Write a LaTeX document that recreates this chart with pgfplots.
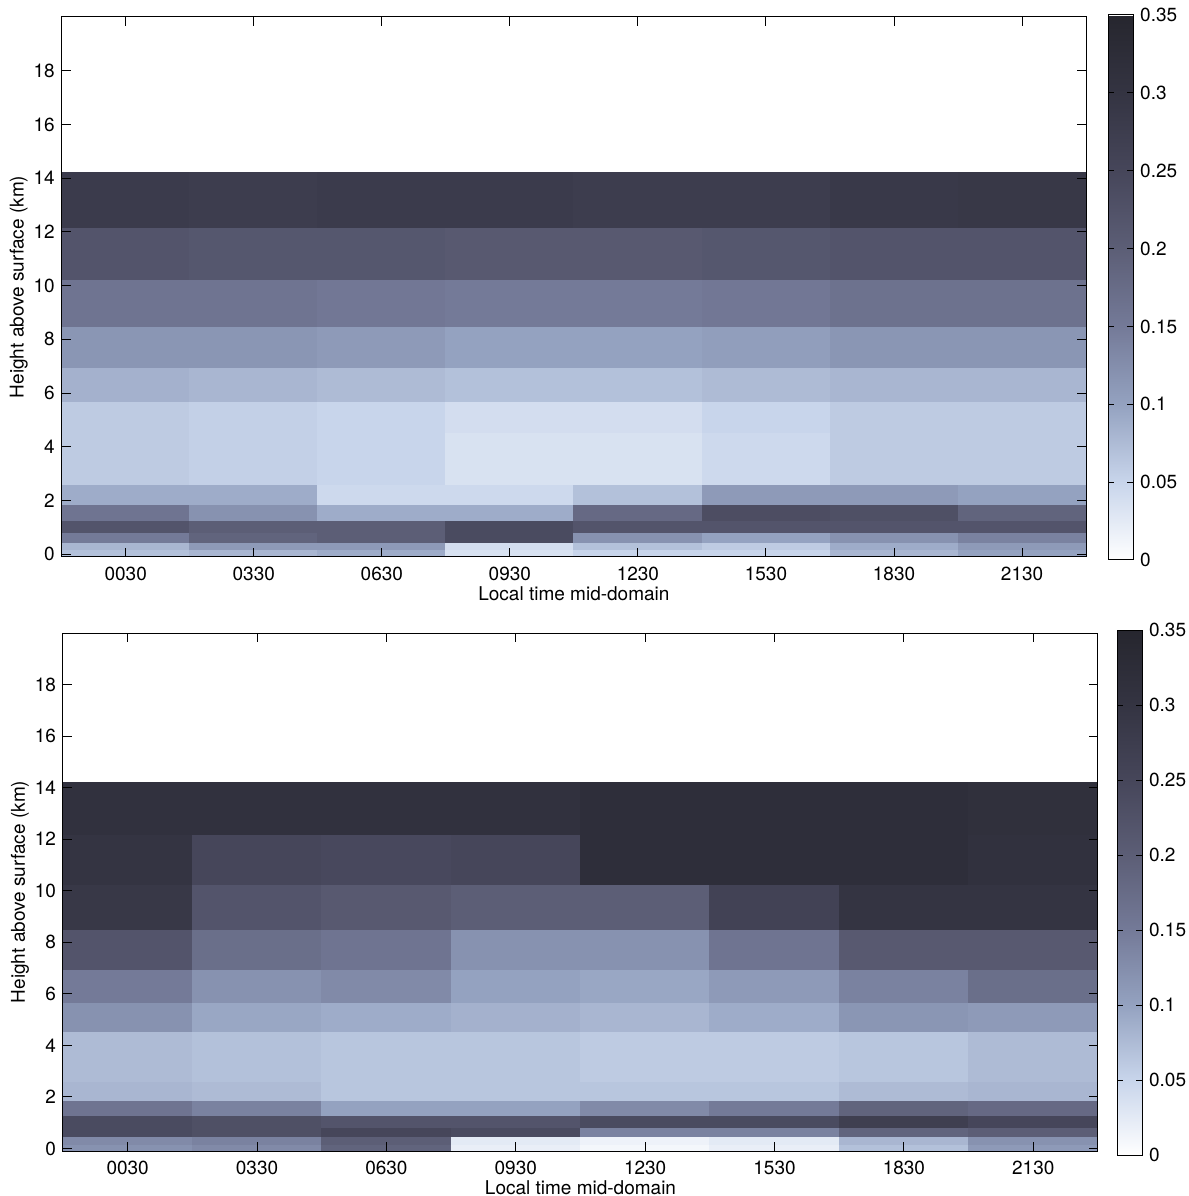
\documentclass[border=0pt]{standalone}
\usepackage{pgfplots}
\pgfplotsset{compat=1.18}
\usepackage{fontspec}
\setmainfont{TeX Gyre Heros}
\pgfplotsset{
  colormap={scan}{rgb255=(255,255,255) rgb255=(200,213,235) rgb255=(148,162,192) rgb255=(116,122,152) rgb255=(92,94,118) rgb255=(70,70,90) rgb255=(52,52,66) rgb255=(38,38,46)},
  hm/.style={
    scale only axis, enlargelimits=false, axis on top,
    font=\fontsize{9.5}{11}\selectfont,
    xmin=0, xmax=8, ymin=-0.1, ymax=20,
    xtick={0.5,1.5,2.5,3.5,4.5,5.5,6.5,7.5},
    xticklabels={0030,0330,0630,0930,1230,1530,1830,2130},
    ytick={0,2,4,6,8,10,12,14,16,18},
    tick align=inside, major tick length=4.5pt,
    /pgf/number format/assume math mode=true,
    xlabel={Local time mid-domain},
    ylabel={Height above surface (km)},
    xticklabel style={yshift=-1.5pt},
    xlabel style={yshift=4pt},
    ylabel style={yshift=-4pt},
    colormap name=scan,
    point meta min=0, point meta max=0.35,
    axis line style={line width=0.5pt},
    every tick/.style={black, line width=0.5pt},
    colorbar,
  },
  cb/.style={
    colorbar style={
      at={(parent axis.north east)}, anchor=north west,
      width=12.5pt,
      ytick={0,0.05,0.1,0.15,0.2,0.25,0.3,0.35},
      yticklabels={0,0.05,0.1,0.15,0.2,0.25,0.3,0.35},
      major tick length=3pt,
      font=\fontsize{9.5}{11}\selectfont,
      axis line style={line width=0.5pt},
      every tick/.style={black, line width=0.5pt},
      #1
    }
  }
}
\begin{document}
\begin{tikzpicture}
\useasboundingbox (0,0) rectangle (594.5pt,598pt);
% ---------- top panel ----------
\begin{axis}[hm, at={(30.85pt,319.5pt)}, anchor=south west,
  width=512.2pt, height=270pt,
  cb={xshift=2.5pt, yshift=1pt, height=272.5pt}]
\addplot[surf, shader=flat corner, mesh/cols=9, point meta=explicit] coordinates {
(0,-0.1)[0.07] (1,-0.1)[0.08] (2,-0.1)[0.09] (3,-0.1)[0.035] (4,-0.1)[0.05] (5,-0.1)[0.05] (6,-0.1)[0.08] (7,-0.1)[0.10] (8,-0.1)[0.10]
(0,0.17)[0.08] (1,0.17)[0.11] (2,0.17)[0.11] (3,0.17)[0.04] (4,0.17)[0.07] (5,0.17)[0.06] (6,0.17)[0.09] (7,0.17)[0.11] (8,0.17)[0.11]
(0,0.45)[0.15] (1,0.45)[0.19] (2,0.45)[0.20] (3,0.45)[0.24] (4,0.45)[0.12] (5,0.45)[0.10] (6,0.45)[0.12] (7,0.45)[0.14] (8,0.45)[0.14]
(0,0.82)[0.22] (1,0.82)[0.20] (2,0.82)[0.20] (3,0.82)[0.24] (4,0.82)[0.22] (5,0.82)[0.22] (6,0.82)[0.22] (7,0.82)[0.22] (8,0.82)[0.22]
(0,1.27)[0.16] (1,1.27)[0.12] (2,1.27)[0.09] (3,1.27)[0.09] (4,1.27)[0.18] (5,1.27)[0.235] (6,1.27)[0.23] (7,1.27)[0.19] (8,1.27)[0.19]
(0,1.87)[0.09] (1,1.87)[0.09] (2,1.87)[0.045] (3,1.87)[0.045] (4,1.87)[0.07] (5,1.87)[0.11] (6,1.87)[0.11] (7,1.87)[0.10] (8,1.87)[0.10]
(0,2.6)[0.06] (1,2.6)[0.055] (2,2.6)[0.05] (3,2.6)[0.035] (4,2.6)[0.035] (5,2.6)[0.045] (6,2.6)[0.06] (7,2.6)[0.06] (8,2.6)[0.06]
(0,4.55)[0.06] (1,4.55)[0.055] (2,4.55)[0.05] (3,4.55)[0.04] (4,4.55)[0.04] (5,4.55)[0.05] (6,4.55)[0.06] (7,4.55)[0.06] (8,4.55)[0.06]
(0,5.68)[0.085] (1,5.68)[0.08] (2,5.68)[0.075] (3,5.68)[0.07] (4,5.68)[0.07] (5,5.68)[0.075] (6,5.68)[0.08] (7,5.68)[0.08] (8,5.68)[0.08]
(0,6.95)[0.115] (1,6.95)[0.115] (2,6.95)[0.11] (3,6.95)[0.10] (4,6.95)[0.10] (5,6.95)[0.105] (6,6.95)[0.115] (7,6.95)[0.115] (8,6.95)[0.115]
(0,8.5)[0.16] (1,8.5)[0.16] (2,8.5)[0.155] (3,8.5)[0.15] (4,8.5)[0.15] (5,8.5)[0.155] (6,8.5)[0.165] (7,8.5)[0.165] (8,8.5)[0.165]
(0,10.25)[0.22] (1,10.25)[0.215] (2,10.25)[0.215] (3,10.25)[0.21] (4,10.25)[0.21] (5,10.25)[0.215] (6,10.25)[0.22] (7,10.25)[0.22] (8,10.25)[0.22]
(0,12.17)[0.28] (1,12.17)[0.275] (2,12.17)[0.28] (3,12.17)[0.28] (4,12.17)[0.275] (5,12.17)[0.275] (6,12.17)[0.285] (7,12.17)[0.29] (8,12.17)[0.29]
(0,14.2)[0.28] (1,14.2)[0.275] (2,14.2)[0.28] (3,14.2)[0.28] (4,14.2)[0.275] (5,14.2)[0.275] (6,14.2)[0.285] (7,14.2)[0.29] (8,14.2)[0.29]
};
\end{axis}
% ---------- bottom panel ----------
\begin{axis}[hm, at={(31.5pt,22.5pt)}, anchor=south west,
  width=517.5pt, height=259pt,
  cb={xshift=1pt, yshift=1.5pt, height=262.5pt}]
\addplot[surf, shader=flat corner, mesh/cols=9, point meta=explicit] coordinates {
(0,-0.1)[0.12] (1,-0.1)[0.13] (2,-0.1)[0.19] (3,-0.1)[0.02] (4,-0.1)[0.01] (5,-0.1)[0.02] (6,-0.1)[0.07] (7,-0.1)[0.11] (8,-0.1)[0.11]
(0,0.17)[0.13] (1,0.17)[0.14] (2,0.17)[0.20] (3,0.17)[0.025] (4,0.17)[0.015] (5,0.17)[0.025] (6,0.17)[0.08] (7,0.17)[0.12] (8,0.17)[0.12]
(0,0.45)[0.24] (1,0.45)[0.23] (2,0.45)[0.25] (3,0.45)[0.24] (4,0.45)[0.14] (5,0.45)[0.14] (6,0.45)[0.19] (7,0.45)[0.20] (8,0.45)[0.20]
(0,0.82)[0.24] (1,0.82)[0.23] (2,0.82)[0.22] (3,0.82)[0.22] (4,0.82)[0.24] (5,0.82)[0.24] (6,0.82)[0.27] (7,0.82)[0.25] (8,0.82)[0.25]
(0,1.27)[0.16] (1,1.27)[0.14] (2,1.27)[0.10] (3,1.27)[0.10] (4,1.27)[0.13] (5,1.27)[0.15] (6,1.27)[0.19] (7,1.27)[0.18] (8,1.27)[0.18]
(0,1.87)[0.08] (1,1.87)[0.075] (2,1.87)[0.065] (3,1.87)[0.065] (4,1.87)[0.065] (5,1.87)[0.065] (6,1.87)[0.075] (7,1.87)[0.08] (8,1.87)[0.08]
(0,2.6)[0.075] (1,2.6)[0.07] (2,2.6)[0.065] (3,2.6)[0.065] (4,2.6)[0.06] (5,2.6)[0.06] (6,2.6)[0.065] (7,2.6)[0.075] (8,2.6)[0.075]
(0,4.55)[0.12] (1,4.55)[0.095] (2,4.55)[0.09] (3,4.55)[0.085] (4,4.55)[0.08] (5,4.55)[0.09] (6,4.55)[0.115] (7,4.55)[0.11] (8,4.55)[0.11]
(0,5.68)[0.15] (1,5.68)[0.12] (2,5.68)[0.13] (3,5.68)[0.10] (4,5.68)[0.095] (5,5.68)[0.11] (6,5.68)[0.14] (7,5.68)[0.17] (8,5.68)[0.17]
(0,6.95)[0.22] (1,6.95)[0.17] (2,6.95)[0.16] (3,6.95)[0.12] (4,6.95)[0.12] (5,6.95)[0.16] (6,6.95)[0.21] (7,6.95)[0.21] (8,6.95)[0.21]
(0,8.5)[0.29] (1,8.5)[0.22] (2,8.5)[0.21] (3,8.5)[0.20] (4,8.5)[0.20] (5,8.5)[0.26] (6,8.5)[0.30] (7,8.5)[0.30] (8,8.5)[0.30]
(0,10.25)[0.30] (1,10.25)[0.25] (2,10.25)[0.245] (3,10.25)[0.25] (4,10.25)[0.32] (5,10.25)[0.32] (6,10.25)[0.32] (7,10.25)[0.31] (8,10.25)[0.31]
(0,12.17)[0.31] (1,12.17)[0.31] (2,12.17)[0.31] (3,12.17)[0.31] (4,12.17)[0.32] (5,12.17)[0.32] (6,12.17)[0.32] (7,12.17)[0.315] (8,12.17)[0.315]
(0,14.2)[0.31] (1,14.2)[0.31] (2,14.2)[0.31] (3,14.2)[0.31] (4,14.2)[0.32] (5,14.2)[0.32] (6,14.2)[0.32] (7,14.2)[0.315] (8,14.2)[0.315]
};
\end{axis}
\end{tikzpicture}
\end{document}
